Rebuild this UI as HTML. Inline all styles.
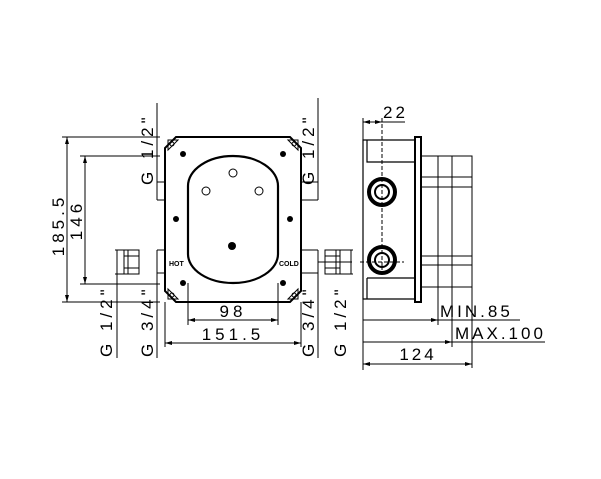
<!DOCTYPE html>
<html><head><style>body{margin:0;background:#fff}svg{display:block}text{font-family:"Liberation Sans",sans-serif;fill:#000}</style></head><body>
<svg width="601" height="479" viewBox="0 0 601 479" xmlns="http://www.w3.org/2000/svg" fill="none" stroke="#000" stroke-width="1">
<path d="M176 137 H290 L301 148 V291 L290 302 H176 L165 291 V148 Z" stroke-width="2"/>
<path d="M168 140 h10 l-10 10z M298 140 h-10 l10 10z M168 299 h10 l-10 -10z M298 299 h-10 l10 -10z" stroke-width="1"/>
<circle cx="172" cy="144" r="2"/><circle cx="294" cy="144" r="2"/><circle cx="172" cy="295" r="2"/><circle cx="294" cy="295" r="2"/>
<path d="M188 186 A45 30 0 0 1 278 186 V254 A45 29 0 0 1 188 254 Z" stroke-width="2.2"/>
<g fill="#000" stroke="none"><circle cx="183" cy="154" r="3"/><circle cx="283" cy="154" r="3"/><circle cx="176" cy="219" r="3"/><circle cx="290" cy="219" r="3"/><circle cx="183" cy="283" r="3"/><circle cx="283" cy="283" r="3"/><circle cx="232" cy="246" r="4"/></g>
<circle cx="233" cy="173" r="4"/><circle cx="206" cy="191" r="4"/><circle cx="259" cy="191" r="4"/>
<text x="169" y="266" font-size="7" font-weight="bold" stroke="none">HOT</text>
<text x="279" y="266" font-size="7" font-weight="bold" stroke="none">COLD</text>
<path d="M157 182 H165 M157 200 H165 M157 250 H165 M157 273 H165 M301 182 H318 M301 200 H318 M301 250 H318 M301 273 H318"/>
<path d="M157 103 V200 M157 250 V358 M318 98 V200 M318 250 V358"/>
<path d="M124 250 h15 v24 h-15 z M128 250 v24 M124 256 h15 M124 268 h15 M117 250 V274"/>
<path d="M115 250 H124 M115 274 H124 M117 258 V358"/>
<path d="M62 137 H160 M80 156 H160 M80 284 H160 M62 302 H160 M67 137 V302 M85 156 V284"/>
<path d="M188 283 V325 M278 283 V325 M188 320 H278 M165 302 V347 M301 302 V347 M165 343 H301"/>
<g fill="#000" stroke="none">
<path d="M67 137 l-2 7 h4z M67 302 l-2 -7 h4z M85 156 l-2 7 h4z M85 284 l-2 -7 h4z M188 320 l7 -2 v4z M278 320 l-7 -2 v4z M165 343 l7 -2 v4z M301 343 l-7 -2 v4z"/>
</g>
<g stroke="none" font-size="17" letter-spacing="4">
<text transform="translate(64 225) rotate(-90)" text-anchor="middle">185.5</text>
<text transform="translate(82 220) rotate(-90)" text-anchor="middle">146</text>
<text x="233" y="317" text-anchor="middle">98</text>
<text x="233" y="340" text-anchor="middle">151.5</text>
<text transform="translate(153 185) rotate(-90)">G 1/2"</text>
<text transform="translate(314 185) rotate(-90)">G 1/2"</text>
<text transform="translate(112 357) rotate(-90)">G 1/2"</text>
<text transform="translate(153 357) rotate(-90)">G 3/4"</text>
<text transform="translate(314 357) rotate(-90)">G 3/4"</text>
<text transform="translate(346 357) rotate(-90)">G 1/2"</text>
</g>
<path d="M325 250 h15 v24 h-15 z M336 250 v24 M325 256 h15 M325 268 h15 M351 250 V274 M340 250 H353 M340 274 H353 M318 262 H352" />
<path d="M363 140 H415 V299 H363 Z M367 140 V162 H415 M367 278 H415 M367 278 V299" stroke-width="1.2"/>
<path d="M415 137 H421 V302 H415 Z" stroke-width="2"/>
<path d="M421 156 H472 V287 H421 M438 156 V287 M452 156 V287 M421 177 H472 M421 187 H472 M421 256 H472 M421 265 H472"/>
<circle cx="382" cy="192" r="13" stroke-width="4"/><circle cx="382" cy="192" r="7" stroke-width="2"/>
<circle cx="382" cy="260" r="13" stroke-width="4"/><circle cx="382" cy="260" r="7" stroke-width="2"/>
<path d="M382 118 V270 M360 262 H404" stroke-dasharray="4 2"/>
<path d="M363 118 V370 M363 122 H405 M438 287 V325 M363 320 H520 M452 287 V347 M363 342 H545 M472 287 V368 M363 364 H472"/>
<g fill="#000" stroke="none"><path d="M363 122 l7 -2 v4z M382 122 l-7 -2 v4z M438 320 l-7 -2 v4z M452 342 l-7 -2 v4z M363 364 l7 -2 v4z M472 364 l-7 -2 v4z"/></g>
<g stroke="none" font-size="17" letter-spacing="3">
<text x="383" y="118">22</text>
<text x="440" y="317">MIN.85</text>
<text x="455" y="339">MAX.100</text>
<text x="418" y="360" text-anchor="middle">124</text>
</g>
</svg>
</body></html>
